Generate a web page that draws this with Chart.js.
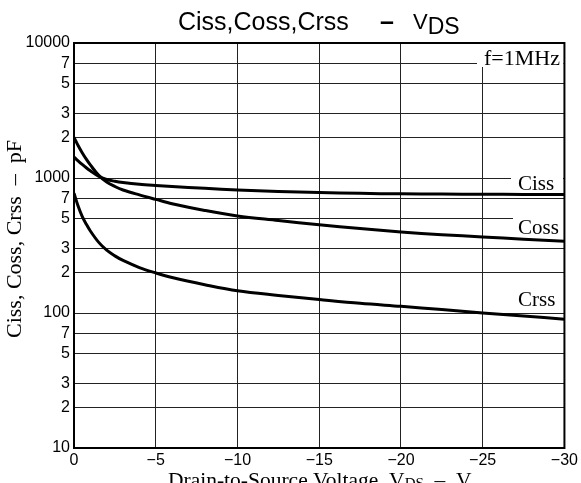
<!DOCTYPE html>
<html>
<head>
<meta charset="utf-8">
<script src="https://cdn.jsdelivr.net/npm/chart.js@4"></script>
<style>
  body { margin: 0; background: #fff; }
  #wrap { width: 581px; height: 483px; position: relative; }
</style>
</head>
<body>
<div id="wrap"><canvas id="chart"></canvas></div>
<script>
// drain-to-source voltage (V) and capacitances (pF)
const vds  = [0, -0.25, -0.5, -0.75, -1, -1.5, -2, -2.5, -3, -4, -5, -6, -8, -10, -12.5, -15, -17.5, -20, -22.5, -25, -27.5, -30];
const ciss = [1430, 1340, 1260, 1190, 1130, 1030, 975, 945, 925, 898, 880, 865, 838, 815, 795, 780, 770, 763, 760, 758, 756, 755];
const coss = [2000, 1740, 1540, 1380, 1250, 1050, 935, 865, 815, 750, 695, 645, 575, 523, 485, 450, 422, 398, 380, 366, 352, 340];
const crss = [770, 620, 520, 455, 405, 335, 292, 265, 245, 217, 198, 183, 162, 146, 135, 126, 118, 112, 106, 100, 95, 90];

const yTickVals = [10, 20, 30, 50, 70, 100, 200, 300, 500, 700, 1000, 2000, 3000, 5000, 7000, 10000];
const yTickText = ['10', '2', '3', '5', '7', '100', '2', '3', '5', '7', '1000', '2', '3', '5', '7', '10000'];
const xTickVals = [0, -5, -10, -15, -20, -25, -30];
const xTickText = ['0', '\u22125', '\u221210', '\u221215', '\u221220', '\u221225', '\u221230'];

const curveNames = ['Ciss', 'Coss', 'Crss'];

function pts(ys) {
  return vds.map((x, i) => ({ x: x, y: ys[i] }));
}

function drawRuns(ctx, x, y, runs) {
  let cx = x;
  runs.forEach(r => {
    ctx.font = r.font;
    ctx.fillText(r.t, cx, y + (r.dy || 0));
    cx += ctx.measureText(r.t).width;
  });
}

const SANS = '"Liberation Sans", Arial, sans-serif';
const SERIF = '"Liberation Serif", "Times New Roman", serif';

const decor = {
  id: 'decor',
  beforeDatasetsDraw(chart) {
    const ctx = chart.ctx;
    const a = chart.chartArea;
    const ys = chart.scales.y;
    ctx.save();
    ctx.fillStyle = '#fff';
    // white boxes behind the curve labels and the frequency note
    ctx.fillRect(477, a.top + 1, a.right - 478, 23);
    ctx.fillRect(511, ys.getPixelForValue(1000) - 10, 52, 20);
    ctx.fillRect(513, ys.getPixelForValue(500) - 10, 52, 20);
    ctx.restore();
  },
  afterDraw(chart) {
    const ctx = chart.ctx;
    const a = chart.chartArea;
    ctx.save();
    ctx.strokeStyle = '#000';
    ctx.lineWidth = 2;
    ctx.strokeRect(a.left, a.top, a.right - a.left, a.bottom - a.top);

    ctx.fillStyle = '#000';
    ctx.textBaseline = 'alphabetic';
    ctx.textAlign = 'left';
    // curve labels
    ctx.font = '21px ' + SERIF;
    ctx.fillText(curveNames[0], 518, 190);
    ctx.fillText(curveNames[1], 518, 234);
    ctx.fillText(curveNames[2], 518, 306);
    ctx.font = '22px ' + SERIF;
    ctx.fillText('f=1MHz', 484, 65);

    // title
    ctx.font = '25px ' + SANS;
    ctx.fillText('Ciss,Coss,Crss', 178, 30);
    ctx.font = 'bold 25px ' + SANS;
    ctx.fillText('\u2013', 380, 30);
    drawRuns(ctx, 413, 29, [
      { t: 'V', font: '22px ' + SANS },
      { t: 'DS', font: '23px ' + SANS, dy: 5 }
    ]);

    // x axis title
    drawRuns(ctx, 168, 487, [
      { t: 'Drain-to-Source Voltage, V', font: '21.5px ' + SERIF },
      { t: 'DS', font: '15px ' + SERIF, dy: 1 },
      { t: '  \u2013  V', font: '21.5px ' + SERIF }
    ]);

    // y axis title
    ctx.translate(21, 239);
    ctx.rotate(-Math.PI / 2);
    ctx.textAlign = 'center';
    ctx.font = '22px ' + SERIF;
    ctx.fillText('Ciss, Coss, Crss  \u2013  pF', 0, 0);
    ctx.restore();
  }
};

const lineStyle = {
  borderColor: '#000',
  borderWidth: 3,
  pointRadius: 0,
  fill: false,
  tension: 0.35
};

new Chart(document.getElementById('chart'), {
  type: 'line',
  data: {
    datasets: [
      Object.assign({ label: curveNames[0], data: pts(ciss) }, lineStyle),
      Object.assign({ label: curveNames[1], data: pts(coss) }, lineStyle),
      Object.assign({ label: curveNames[2], data: pts(crss) }, lineStyle)
    ]
  },
  options: {
    responsive: true,
    maintainAspectRatio: false,
    animation: false,
    layout: { padding: { top: 43, right: 13, left: 0, bottom: 0 } },
    plugins: {
      legend: { display: false },
      tooltip: { enabled: false }
    },
    scales: {
      x: {
        type: 'linear',
        min: -30,
        max: 0,
        reverse: true,
        afterBuildTicks: s => { s.ticks = xTickVals.map(v => ({ value: v })); },
        afterFit: s => { s.height = 35; },
        grid: { color: '#222', lineWidth: 1, drawTicks: false },
        border: { color: '#000', width: 2 },
        ticks: {
          padding: 3,
          color: '#000',
          font: { family: SANS, size: 16 },
          maxRotation: 0,
          autoSkip: false,
          callback: (v, i) => xTickText[i]
        }
      },
      y: {
        type: 'logarithmic',
        min: 10,
        max: 10000,
        afterBuildTicks: s => { s.ticks = yTickVals.map(v => ({ value: v })); },
        afterFit: s => { s.width = 74; },
        grid: { color: '#222', lineWidth: 1, drawTicks: false },
        border: { color: '#000', width: 2 },
        ticks: {
          padding: 4,
          color: '#000',
          font: { family: SANS, size: 16 },
          autoSkip: false,
          callback: (v, i) => yTickText[i]
        }
      }
    }
  },
  plugins: [decor]
});
</script>
</body>
</html>
